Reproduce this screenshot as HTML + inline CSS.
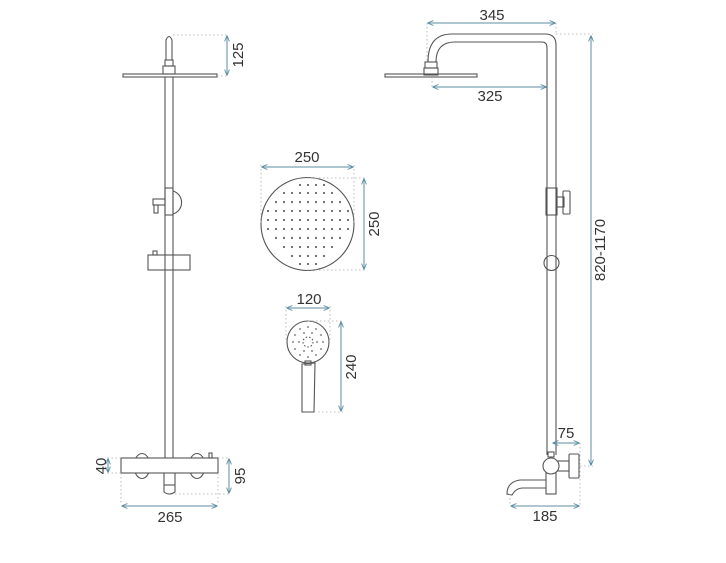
<!DOCTYPE html>
<html><head><meta charset="utf-8"><style>
html,body{margin:0;padding:0;background:#fff;}
svg{display:block;}
text{font-family:"Liberation Sans",sans-serif;font-size:15px;fill:#333;}
</style></head><body>
<svg width="726" height="563" viewBox="0 0 726 563" xmlns="http://www.w3.org/2000/svg">
<defs>
<marker id="a" viewBox="0 0 10 10" refX="9" refY="5" markerWidth="6" markerHeight="6" orient="auto-start-reverse"><path d="M0,1 L10,5 L0,9" fill="none" stroke="#5b8ea6" stroke-width="1.5"/></marker>
</defs>
<g fill="none" stroke="#555" stroke-width="1.1">
<path d="M166,60 V40 Q169,33 172,40 V60"/>
<rect x="165" y="60" width="8" height="6"/>
<rect x="163" y="66" width="12" height="8"/>
<rect x="123" y="74" width="94" height="3"/>
<line x1="165" y1="77" x2="165" y2="458"/><line x1="173" y1="77" x2="173" y2="458"/>
<path d="M173,191 A12,12 0 0 1 173,214"/>
<rect x="165" y="188" width="8" height="27"/>
<rect x="153" y="199" width="12" height="6"/><rect x="154" y="205" width="4" height="8"/>
<rect x="148" y="255" width="42" height="15"/>
<rect x="153" y="251" width="4" height="4"/>
<ellipse cx="142" cy="466" rx="8" ry="12.5"/>
<ellipse cx="197" cy="466" rx="8" ry="12.5"/>
<rect x="121" y="458" width="97" height="15" fill="#fff"/>
<rect x="209" y="453" width="3" height="5"/>
<path d="M164,473 V492 Q169,496 175,492 V473"/>
<line x1="164" y1="485" x2="175" y2="485"/>
<circle cx="307.5" cy="224" r="46.5"/>
<circle cx="308" cy="342" r="21"/>
<circle cx="308" cy="342" r="5" stroke-dasharray="1.5 2"/>
<path d="M302,364 L315,363 L314,412 L302,412 Z"/>
<rect x="305" y="361" width="6" height="4"/>
<path d="M428,62 Q428,34 452,34 H545 Q556,34 556,45 V455"/>
<path d="M436,62 Q436,42 455,42 H542 Q547,42 547,48 V455"/>
<rect x="425" y="62" width="12" height="6"/>
<rect x="424" y="68" width="14" height="7"/>
<rect x="385" y="74" width="92" height="3"/>
<rect x="546" y="188" width="11" height="27"/>
<rect x="557" y="197" width="7" height="10"/>
<rect x="563" y="191" width="7" height="23" rx="1"/>
<circle cx="551.5" cy="263" r="7.5"/>
<rect x="548" y="452" width="6" height="5"/>
<rect x="546" y="473" width="10" height="21"/>
<path d="M546,480 H520 Q507,482 507,494 L512,495 Q516,488 523,488 H546"/>
<rect x="557" y="461" width="12" height="10"/>
<rect x="569" y="454" width="10" height="24" rx="1"/>
<circle cx="551" cy="466" r="8" fill="#fff"/>
</g>
<g stroke="#aaa" stroke-width="0.8" stroke-dasharray="1.5 2.5" fill="none">
<line x1="173" y1="35" x2="227" y2="35"/><line x1="217" y1="76" x2="227" y2="76"/>
<line x1="121" y1="458" x2="106" y2="458"/><line x1="121" y1="473" x2="106" y2="473"/>
<line x1="218" y1="458" x2="230" y2="458"/><line x1="175" y1="494" x2="230" y2="494"/>
<line x1="121" y1="473" x2="121" y2="505"/><line x1="218" y1="473" x2="218" y2="505"/>
<line x1="261" y1="165" x2="261" y2="224"/><line x1="354" y1="165" x2="354" y2="224"/>
<line x1="307" y1="178" x2="366" y2="178"/><line x1="307" y1="270" x2="366" y2="270"/>
<line x1="286" y1="306" x2="286" y2="342"/><line x1="330" y1="306" x2="330" y2="342"/>
<line x1="308" y1="321" x2="343" y2="321"/><line x1="314" y1="412" x2="343" y2="412"/>
<line x1="427" y1="23" x2="427" y2="62"/><line x1="556" y1="23" x2="556" y2="34"/>
<line x1="432" y1="77" x2="432" y2="88"/>
<line x1="556" y1="34" x2="593" y2="34"/><line x1="580" y1="466" x2="593" y2="466"/>
<line x1="580" y1="443" x2="580" y2="505"/><line x1="510" y1="494" x2="510" y2="505"/>
</g>
<g stroke="#5b8ea6" stroke-width="1" fill="none" marker-start="url(#a)" marker-end="url(#a)">
<line x1="227" y1="36" x2="227" y2="75"/>
<line x1="108" y1="459" x2="108" y2="472"/>
<line x1="229" y1="459" x2="229" y2="493"/>
<line x1="122" y1="506" x2="217" y2="506"/>
<line x1="262" y1="167" x2="353" y2="167"/>
<line x1="364" y1="179" x2="364" y2="269"/>
<line x1="287" y1="308" x2="329" y2="308"/>
<line x1="341" y1="322" x2="341" y2="411"/>
<line x1="428" y1="23" x2="555" y2="23"/>
<line x1="433" y1="87" x2="546" y2="87"/>
<line x1="591" y1="36" x2="591" y2="465"/>
<line x1="553" y1="443" x2="579" y2="443"/>
<line x1="511" y1="506" x2="579" y2="506"/>
</g>
<text transform="translate(243,55) rotate(-90)" text-anchor="middle">125</text>
<text transform="translate(106,466) rotate(-90)" text-anchor="middle">40</text>
<text transform="translate(245,476) rotate(-90)" text-anchor="middle">95</text>
<text x="170" y="522" text-anchor="middle">265</text>
<text x="307" y="162" text-anchor="middle">250</text>
<text transform="translate(379,224) rotate(-90)" text-anchor="middle">250</text>
<text x="309" y="304" text-anchor="middle">120</text>
<text transform="translate(356,367) rotate(-90)" text-anchor="middle">240</text>
<text x="492" y="20" text-anchor="middle">345</text>
<text x="490" y="101" text-anchor="middle">325</text>
<text transform="translate(605,250) rotate(-90)" text-anchor="middle">820-1170</text>
<text x="566" y="438" text-anchor="middle">75</text>
<text x="545" y="521" text-anchor="middle">185</text>
<g fill="#666">
<circle cx="300" cy="185" r="1.1"/><circle cx="308" cy="185" r="1.1"/><circle cx="316" cy="185" r="1.1"/><circle cx="324" cy="185" r="1.1"/>
<circle cx="284" cy="193" r="1.1"/><circle cx="292" cy="193" r="1.1"/><circle cx="300" cy="193" r="1.1"/><circle cx="308" cy="193" r="1.1"/><circle cx="316" cy="193" r="1.1"/><circle cx="324" cy="193" r="1.1"/><circle cx="332" cy="193" r="1.1"/>
<circle cx="276" cy="202" r="1.1"/><circle cx="284" cy="202" r="1.1"/><circle cx="292" cy="202" r="1.1"/><circle cx="300" cy="202" r="1.1"/><circle cx="308" cy="202" r="1.1"/><circle cx="316" cy="202" r="1.1"/><circle cx="324" cy="202" r="1.1"/><circle cx="332" cy="202" r="1.1"/><circle cx="340" cy="202" r="1.1"/>
<circle cx="268" cy="211" r="1.1"/><circle cx="276" cy="211" r="1.1"/><circle cx="284" cy="211" r="1.1"/><circle cx="292" cy="211" r="1.1"/><circle cx="300" cy="211" r="1.1"/><circle cx="308" cy="211" r="1.1"/><circle cx="316" cy="211" r="1.1"/><circle cx="324" cy="211" r="1.1"/><circle cx="332" cy="211" r="1.1"/><circle cx="340" cy="211" r="1.1"/><circle cx="348" cy="211" r="1.1"/>
<circle cx="268" cy="220" r="1.1"/><circle cx="276" cy="220" r="1.1"/><circle cx="284" cy="220" r="1.1"/><circle cx="292" cy="220" r="1.1"/><circle cx="300" cy="220" r="1.1"/><circle cx="308" cy="220" r="1.1"/><circle cx="316" cy="220" r="1.1"/><circle cx="324" cy="220" r="1.1"/><circle cx="332" cy="220" r="1.1"/><circle cx="340" cy="220" r="1.1"/><circle cx="348" cy="220" r="1.1"/>
<circle cx="268" cy="229" r="1.1"/><circle cx="276" cy="229" r="1.1"/><circle cx="284" cy="229" r="1.1"/><circle cx="292" cy="229" r="1.1"/><circle cx="300" cy="229" r="1.1"/><circle cx="308" cy="229" r="1.1"/><circle cx="316" cy="229" r="1.1"/><circle cx="324" cy="229" r="1.1"/><circle cx="332" cy="229" r="1.1"/><circle cx="340" cy="229" r="1.1"/><circle cx="348" cy="229" r="1.1"/>
<circle cx="276" cy="238" r="1.1"/><circle cx="284" cy="238" r="1.1"/><circle cx="292" cy="238" r="1.1"/><circle cx="300" cy="238" r="1.1"/><circle cx="308" cy="238" r="1.1"/><circle cx="316" cy="238" r="1.1"/><circle cx="324" cy="238" r="1.1"/><circle cx="332" cy="238" r="1.1"/><circle cx="340" cy="238" r="1.1"/>
<circle cx="284" cy="247" r="1.1"/><circle cx="292" cy="247" r="1.1"/><circle cx="300" cy="247" r="1.1"/><circle cx="308" cy="247" r="1.1"/><circle cx="316" cy="247" r="1.1"/><circle cx="324" cy="247" r="1.1"/><circle cx="332" cy="247" r="1.1"/>
<circle cx="292" cy="256" r="1.1"/><circle cx="300" cy="256" r="1.1"/><circle cx="308" cy="256" r="1.1"/><circle cx="316" cy="256" r="1.1"/><circle cx="324" cy="256" r="1.1"/>
<circle cx="300" cy="264" r="1.1"/><circle cx="308" cy="264" r="1.1"/><circle cx="316" cy="264" r="1.1"/>
<circle cx="308" cy="327" r="0.9"/><circle cx="316" cy="329" r="0.9"/><circle cx="321" cy="335" r="0.9"/><circle cx="323" cy="342" r="0.9"/><circle cx="321" cy="349" r="0.9"/><circle cx="316" cy="355" r="0.9"/><circle cx="308" cy="357" r="0.9"/><circle cx="300" cy="355" r="0.9"/><circle cx="295" cy="349" r="0.9"/><circle cx="293" cy="342" r="0.9"/><circle cx="295" cy="335" r="0.9"/><circle cx="300" cy="329" r="0.9"/>
<circle cx="312" cy="333" r="0.9"/><circle cx="317" cy="342" r="0.9"/><circle cx="312" cy="351" r="0.9"/><circle cx="304" cy="351" r="0.9"/><circle cx="299" cy="342" r="0.9"/><circle cx="304" cy="333" r="0.9"/>
</g>
</svg>
</body></html>
